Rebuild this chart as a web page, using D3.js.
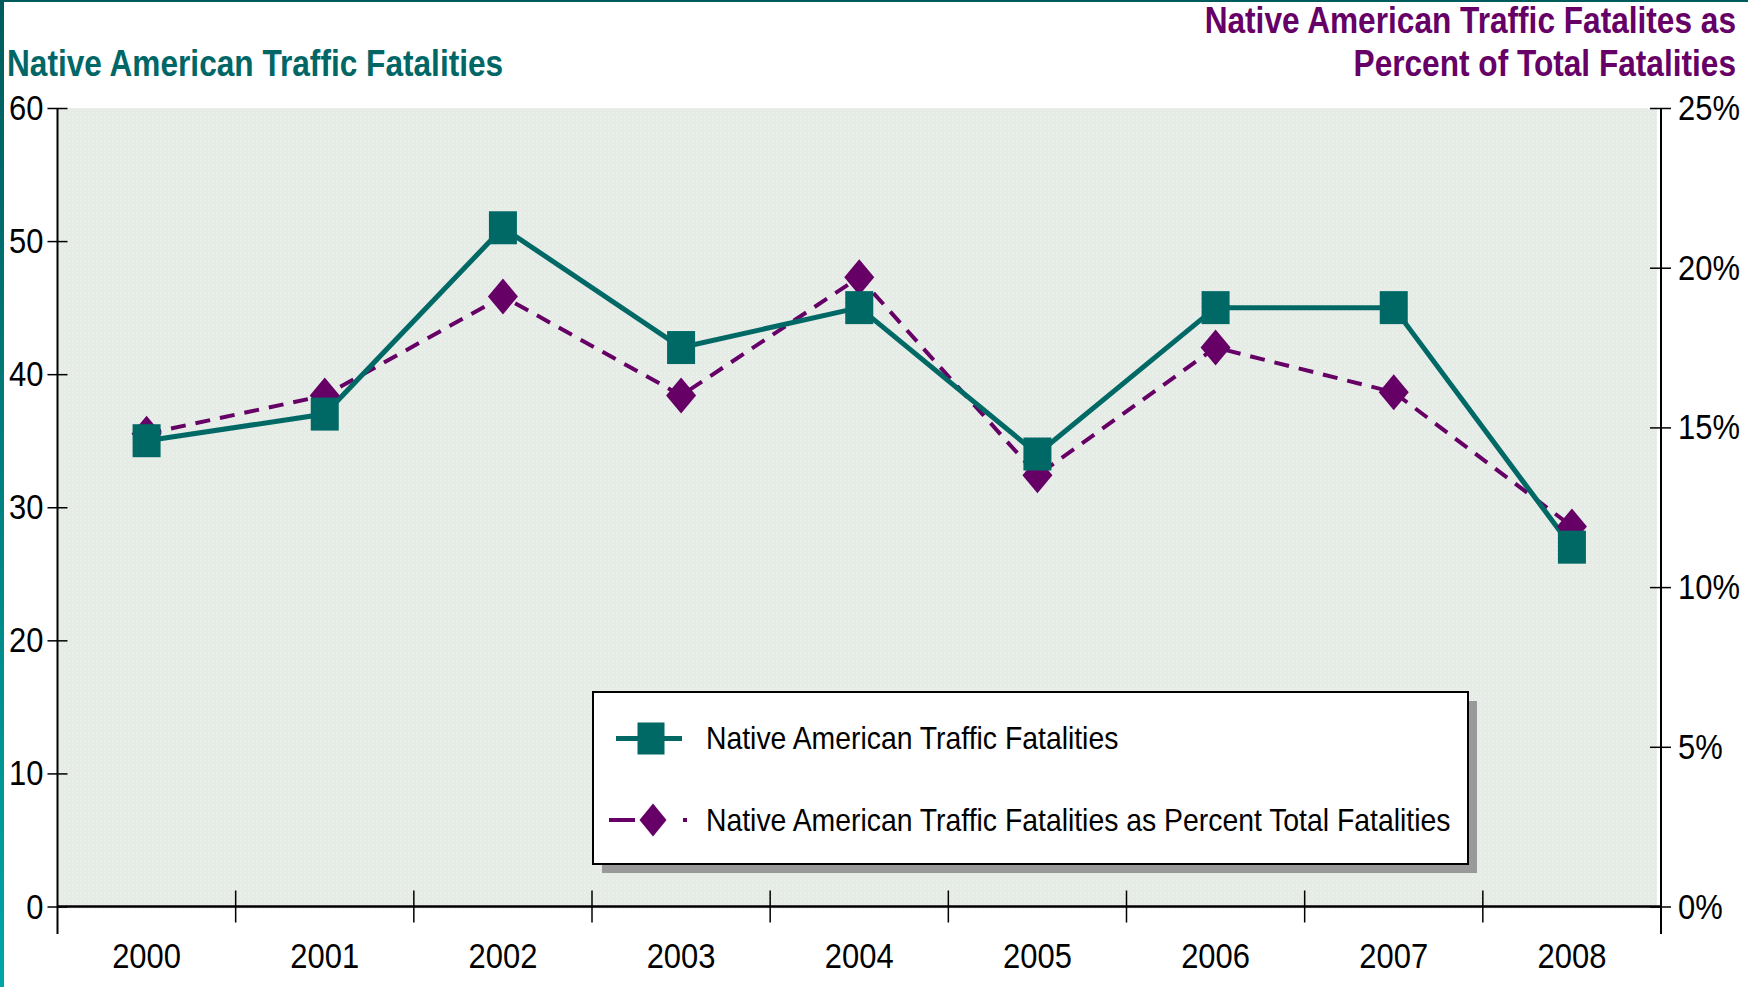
<!DOCTYPE html>
<html>
<head>
<meta charset="utf-8">
<script src="https://cdn.jsdelivr.net/npm/d3@7"></script>
<style>
  html, body { margin: 0; padding: 0; background: #ffffff; }
  svg { display: block; }
  text { font-family: "Liberation Sans Narrow", "Arial Narrow", "Liberation Sans", Arial, sans-serif; }
</style>
</head>
<body>
<svg id="chart" width="1748" height="987"></svg>
<script>
// ---- data ----
const years = ["2000", "2001", "2002", "2003", "2004", "2005", "2006", "2007", "2008"];
const fatalities = [35, 37, 51, 42, 45, 34, 45, 45, 27];
const percentOfTotal = [14.8, 16.0, 19.1, 16.0, 19.7, 13.5, 17.5, 16.1, 11.9];
const leftTicks = [0, 10, 20, 30, 40, 50, 60];
const rightTicks = [0, 5, 10, 15, 20, 25];
const leftTitle = "Native American Traffic Fatalities";
const rightTitle = ["Native American Traffic Fatalites as", "Percent of Total Fatalities"];
const legendLabels = ["Native American Traffic Fatalities",
  "Native American Traffic Fatalities as Percent Total Fatalities"];

// ---- styles ----
const TEAL = "#006966";
const PURPLE = "#660066";
const W = 1748, H = 987;
const plot = { left: 57.5, right: 1661, top: 108, bottom: 906.5 };

const svg = d3.select("#chart");
const defs = svg.append("defs");

// narrow the installed sans around its anchor point to imitate a condensed face
function condense(sel, f) {
  sel.each(function () {
    const t = d3.select(this);
    const x0 = +t.attr("x") || 0;
    t.attr("transform", `translate(${x0},0) scale(${f},1) translate(${-x0},0)`);
  });
}

// background texture
const pat = defs.append("pattern").attr("id", "tex")
  .attr("patternUnits", "userSpaceOnUse").attr("width", 4).attr("height", 4);
pat.append("rect").attr("width", 4).attr("height", 4).attr("fill", "#e5ebe5");
pat.append("rect").attr("width", 1).attr("height", 1).attr("fill", "#f3f6f3");
pat.append("rect").attr("x", 2).attr("y", 2).attr("width", 1).attr("height", 1).attr("fill", "#eef2ee");

const grad = defs.append("linearGradient").attr("id", "edge")
  .attr("x1", 0).attr("y1", 0).attr("x2", 0).attr("y2", 1);
grad.append("stop").attr("offset", "0%").attr("stop-color", "#005c5c");
grad.append("stop").attr("offset", "100%").attr("stop-color", "#00a6a6");

// frame
svg.append("rect").attr("x", 0).attr("y", 0).attr("width", W).attr("height", 2).attr("fill", "#005c5c");
svg.append("rect").attr("x", 0).attr("y", 0).attr("width", 4).attr("height", H).attr("fill", "url(#edge)");

// scales
const x = d3.scaleBand().domain(years).range([plot.left, plot.right]).paddingInner(0).paddingOuter(0);
const yL = d3.scaleLinear().domain([0, 60]).range([plot.bottom, plot.top]);
const yR = d3.scaleLinear().domain([0, 25]).range([plot.bottom, plot.top]);
const cx = d => x(d) + x.bandwidth() / 2;

// plot background
svg.append("rect")
  .attr("x", plot.left).attr("y", plot.top)
  .attr("width", plot.right - plot.left - 4).attr("height", plot.bottom - plot.top + 2)
  .attr("fill", "url(#tex)");

// titles
svg.append("text").attr("x", 7).attr("y", 76.5)
  .attr("fill", "#006666").attr("font-weight", "bold").attr("font-size", 37)
  .text(leftTitle).call(condense, 0.855);
svg.selectAll("text.rt").data(rightTitle).enter().append("text").attr("class", "rt")
  .attr("x", 1736).attr("y", (d, i) => 32.5 + i * 43.5)
  .attr("text-anchor", "end")
  .attr("fill", PURPLE).attr("font-weight", "bold").attr("font-size", 37)
  .text(d => d).call(condense, 0.855);

const TICKF = 0.86;
const tickFont = '"Liberation Sans Narrow", "Arial Narrow", "Liberation Sans", Arial, sans-serif';
// left axis
const gL = svg.append("g").attr("transform", `translate(${plot.left},0)`)
  .call(d3.axisLeft(yL).tickValues(leftTicks).tickSize(10).tickPadding(4));
gL.select(".domain").remove();
gL.selectAll(".tick line").attr("x1", 10).attr("stroke", "#000").attr("stroke-width", 1.5);
gL.selectAll(".tick text").attr("font-size", 36).attr("fill", "#000")
  .style("font-family", tickFont).call(condense, TICKF);
svg.append("line").attr("x1", plot.left).attr("x2", plot.left)
  .attr("y1", plot.top).attr("y2", 934).attr("stroke", "#000").attr("stroke-width", 2);

// right axis
const gR = svg.append("g").attr("transform", `translate(${plot.right},0)`)
  .call(d3.axisRight(yR).tickValues(rightTicks).tickSize(10).tickPadding(7)
    .tickFormat(d => d + "%"));
gR.select(".domain").remove();
gR.selectAll(".tick line").attr("x1", -11).attr("stroke", "#000").attr("stroke-width", 1.5);
gR.selectAll(".tick text").attr("font-size", 36).attr("fill", "#000")
  .style("font-family", tickFont).call(condense, TICKF);
svg.append("line").attr("x1", plot.right).attr("x2", plot.right)
  .attr("y1", plot.top).attr("y2", 934).attr("stroke", "#000").attr("stroke-width", 2);

// bottom axis
const gB = svg.append("g").attr("transform", `translate(0,${plot.bottom})`)
  .call(d3.axisBottom(x).tickSize(0).tickPadding(36));
gB.select(".domain").remove();
gB.selectAll(".tick text").attr("font-size", 36).attr("fill", "#000")
  .style("font-family", tickFont).call(condense, TICKF);
svg.append("line").attr("x1", plot.left).attr("x2", plot.right)
  .attr("y1", plot.bottom).attr("y2", plot.bottom).attr("stroke", "#000").attr("stroke-width", 2.5);
const bounds = years.slice(1).map(d => x(d));
svg.selectAll("line.xt").data(bounds).enter().append("line").attr("class", "xt")
  .attr("x1", d => d).attr("x2", d => d)
  .attr("y1", plot.bottom - 16).attr("y2", plot.bottom + 16)
  .attr("stroke", "#000").attr("stroke-width", 1.5);

// series lines
const lineL = d3.line().x((d, i) => cx(years[i])).y(d => yL(d));
const lineR = d3.line().x((d, i) => cx(years[i])).y(d => yR(d));

svg.append("path").datum(percentOfTotal).attr("d", lineR)
  .attr("fill", "none").attr("stroke", PURPLE).attr("stroke-width", 4)
  .attr("stroke-dasharray", "15,10");
svg.append("path").datum(fatalities).attr("d", lineL)
  .attr("fill", "none").attr("stroke", TEAL).attr("stroke-width", 5);

const SQW = 28, SQH = 33, DW = 30, DH = 36;
const diamond = (w, h) => `M0,${-h / 2}L${w / 2},0L0,${h / 2}L${-w / 2},0Z`;

svg.selectAll("path.dia").data(percentOfTotal).enter().append("path").attr("class", "dia")
  .attr("d", diamond(DW, DH))
  .attr("transform", (d, i) => `translate(${cx(years[i])},${yR(d)})`)
  .attr("fill", PURPLE);
svg.selectAll("rect.sq").data(fatalities).enter().append("rect").attr("class", "sq")
  .attr("x", (d, i) => cx(years[i]) - SQW / 2).attr("y", d => yL(d) - SQH / 2)
  .attr("width", SQW).attr("height", SQH).attr("fill", TEAL);

// legend
const lg = { x: 593, y: 692, w: 875, h: 172 };
svg.append("rect").attr("x", lg.x + 9).attr("y", lg.y + 9).attr("width", lg.w).attr("height", lg.h)
  .attr("fill", "#999999");
svg.append("rect").attr("x", lg.x).attr("y", lg.y).attr("width", lg.w).attr("height", lg.h)
  .attr("fill", "#ffffff").attr("stroke", "#000").attr("stroke-width", 2);

const ly1 = 738.5, ly2 = 820;
svg.append("line").attr("x1", 616).attr("x2", 682).attr("y1", ly1).attr("y2", ly1)
  .attr("stroke", TEAL).attr("stroke-width", 5);
svg.append("rect").attr("x", 651 - 13.5).attr("y", ly1 - 16).attr("width", 27).attr("height", 32).attr("fill", TEAL);
svg.append("line").attr("x1", 609).attr("x2", 690).attr("y1", ly2).attr("y2", ly2)
  .attr("stroke", PURPLE).attr("stroke-width", 4).attr("stroke-dasharray", "26,48,4,100");
svg.append("path").attr("d", diamond(27, 33)).attr("transform", `translate(653,${ly2})`).attr("fill", PURPLE);

svg.selectAll("text.lgt").data(legendLabels).enter().append("text").attr("class", "lgt")
  .attr("x", 706).attr("y", (d, i) => [ly1, ly2][i] + 11)
  .attr("font-size", 31).attr("fill", "#000")
  .text(d => d).call(condense, 0.915);
</script>
</body>
</html>
